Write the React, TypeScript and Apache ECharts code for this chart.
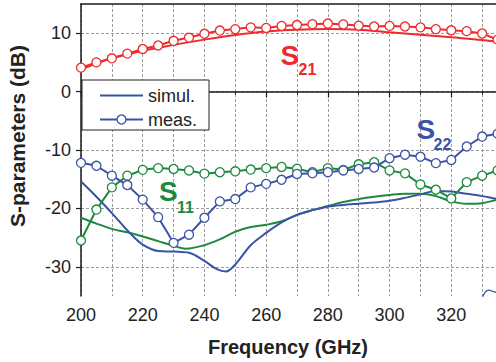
import React, { useEffect, useRef } from "react";
import * as echarts from "echarts";

// Frequency grid of the measured points (GHz)
const measFreq = [
  200, 205, 210, 215, 220, 225, 230, 235, 240, 245, 250, 255, 260, 265,
  270, 275, 280, 285, 290, 295, 300, 305, 310, 315, 320, 325, 330, 335,
];

// Measured S-parameters (dB)
const s21Meas = [
  4.1, 5.0, 5.7, 6.5, 7.3, 7.9, 8.7, 9.25, 9.9, 10.45, 10.7, 11.0, 10.9, 11.25,
  11.4, 11.55, 11.65, 11.5, 11.3, 11.15, 11.25, 11.15, 11.0, 10.7, 10.5, 10.35, 9.95, 8.9,
];
const s22Meas = [
  -12.2, -12.7, -14.4, -16.0, -18.5, -21.5, -25.9, -24.5, -21.6, -18.8, -18.4, -16.4, -15.8, -15.1,
  -14.1, -14.0, -13.8, -13.5, -13.25, -13.0, -11.4, -10.8, -11.15, -12.25, -11.7, -9.4, -7.7, -7.2,
];
const s11Meas = [
  -25.5, -20.2, -16.4, -14.4, -13.4, -13.1, -13.25, -13.5, -14.05, -13.8, -13.65, -13.35, -13.1, -12.9,
  -13.2, -13.8, -13.1, -13.4, -12.45, -12.1, -13.5, -14.0, -15.9, -16.8, -18.3, -15.5, -14.4, -13.5,
];

// Simulated S21
const s21SimFreq = [200, 205, 210, 220, 230, 240, 250, 260, 270, 280, 290, 300, 310, 320, 330, 340];
const s21Sim = [3.8, 4.8, 5.7, 7.0, 8.0, 8.9, 9.7, 10.3, 10.6, 10.7, 10.6, 10.15, 9.75, 9.3, 8.85, 8.2];

// Simulated S22
const s22SimFreq = [
  200, 205, 210, 216, 220, 225, 230, 235, 240, 244, 247, 250, 255, 260, 265,
  270, 275, 280, 285, 290, 295, 300, 305, 310, 315, 320, 325, 330, 335, 340,
];
const s22Sim = [
  -15.4, -18.0, -20.8, -24.3, -26.2, -27.3, -27.4, -27.6, -29.0, -30.4, -30.8, -29.6, -26.3, -24.2, -22.4,
  -21.1, -20.3, -19.7, -19.4, -19.2, -19.0, -18.7, -18.2, -17.6, -17.0, -17.1, -17.5, -17.9, -18.4, -18.8,
];

// Simulated S11
const s11SimFreq = [
  200, 205, 210, 215, 220, 225, 230, 234, 240, 245, 250, 255, 260, 265,
  270, 275, 280, 285, 290, 295, 300, 305, 310, 315, 320, 325, 330, 335, 340,
];
const s11Sim = [
  -21.6, -22.6, -23.5, -24.1, -24.8, -25.6, -26.4, -26.9, -26.3, -25.3, -24.0, -23.2, -22.8, -22.2,
  -21.1, -20.3, -19.6, -18.9, -18.4, -18.0, -17.7, -17.5, -17.5, -17.9, -18.8, -19.2, -19.1, -18.5, -18.0,
];

// Simulated S12 (only its tail rises into view)
const s12SimFreq = [330, 332, 335, 338];
const s12Sim = [-35.3, -34.0, -34.4, -34.2];

const xRange = [200, 340];
const yRange = [-35, 15];
const yLabelValues = [-30, -20, -10, 0, 10];
const legendNames = ["simul.", "meas."];

const RED = "#ee2a2c";
const BLUE = "#3a53a6";
const GREEN = "#1c8a3c";
const FONT = "'Liberation Sans', Arial, sans-serif";
const TEXT = "#222";
const AXIS = "#1a1a1a";
const TOP_Z = 100;

const pairs = (xs: number[], ys: number[]) => xs.map((x, i) => [x, ys[i]]);

const simSeries = (name: string, xs: number[], ys: number[], color: string, width = 2) => ({
  name,
  type: "line",
  data: pairs(xs, ys),
  smooth: 0.35,
  symbol: "none",
  lineStyle: { color, width },
  itemStyle: { color },
});

const measSeries = (name: string, xs: number[], ys: number[], color: string) => ({
  name,
  type: "line",
  data: pairs(xs, ys),
  symbol: "circle",
  symbolSize: 9,
  lineStyle: { color, width: 2 },
  itemStyle: { color: "#fff", borderColor: color, borderWidth: 1.3 },
});

const gridLine = { show: true, lineStyle: { color: "#9c9c9c", type: [3, 2], width: 1 } };

// Boxed key: plain line for simulation, line with open circle for measurement
const legendBox = () => {
  const ox = 82;
  const oy = 80;
  return [
    { type: "rect", z: TOP_Z, shape: { x: ox, y: oy, width: 127, height: 50 }, style: { fill: "#fff", stroke: "#222", lineWidth: 1 } },
    { type: "line", z: TOP_Z + 1, shape: { x1: ox + 18, y1: oy + 15.5, x2: ox + 61, y2: oy + 15.5 }, style: { stroke: BLUE, lineWidth: 2 } },
    { type: "line", z: TOP_Z + 1, shape: { x1: ox + 18, y1: oy + 39.5, x2: ox + 61, y2: oy + 39.5 }, style: { stroke: BLUE, lineWidth: 2 } },
    { type: "circle", z: TOP_Z + 2, shape: { cx: ox + 39.5, cy: oy + 39.5, r: 4.5 }, style: { fill: "#fff", stroke: BLUE, lineWidth: 1.3 } },
    { type: "text", z: TOP_Z + 2, x: ox + 66, y: oy + 15.5, style: { text: legendNames[0], fill: TEXT, font: `18px ${FONT}`, textVerticalAlign: "middle" } },
    { type: "text", z: TOP_Z + 2, x: ox + 66, y: oy + 39.5, style: { text: legendNames[1], fill: TEXT, font: `18px ${FONT}`, textVerticalAlign: "middle" } },
  ];
};

export default function App() {
  const ref = useRef<HTMLDivElement>(null);

  useEffect(() => {
    if (!ref.current) return;
    const chart = echarts.init(ref.current, undefined, { renderer: "svg" });
    chart.setOption({
      animation: false,
      backgroundColor: "#fff",
      textStyle: { fontFamily: FONT },
      grid: { left: 81, top: 4, right: 0, bottom: 66, containLabel: false },
      xAxis: [
        {
          type: "value",
          min: xRange[0],
          max: xRange[1],
          interval: 20,
          axisLine: { lineStyle: { color: AXIS, width: 1.5 } },
          axisTick: { inside: false, length: 6, lineStyle: { color: AXIS, width: 1.2 } },
          minorTick: { show: true, splitNumber: 2, length: 3, lineStyle: { color: AXIS, width: 1 } },
          splitLine: gridLine,
          minorSplitLine: gridLine,
          axisLabel: { color: TEXT, fontSize: 18, fontFamily: FONT, margin: 10, showMaxLabel: false },
        },
        {
          type: "value",
          position: "top",
          min: xRange[0],
          max: xRange[1],
          axisLine: { show: true, lineStyle: { color: AXIS, width: 1.5 } },
          axisTick: { show: false },
          axisLabel: { show: false },
          splitLine: { show: false },
        },
      ],
      yAxis: {
        type: "value",
        min: yRange[0],
        max: yRange[1],
        interval: 5,
        axisLine: { show: true, lineStyle: { color: AXIS, width: 1.5 } },
        axisTick: {
          show: true,
          inside: false,
          length: 5,
          customValues: yLabelValues,
          lineStyle: { color: AXIS, width: 1.2 },
        },
        splitLine: gridLine,
        axisLabel: {
          color: TEXT,
          fontSize: 18,
          fontFamily: FONT,
          margin: 10,
          customValues: yLabelValues,
        },
      },
      series: [
        simSeries("S12 sim", s12SimFreq, s12Sim, BLUE, 1.3),
        simSeries("S11 sim", s11SimFreq, s11Sim, GREEN),
        simSeries("S22 sim", s22SimFreq, s22Sim, BLUE),
        simSeries("S21 sim", s21SimFreq, s21Sim, RED),
        measSeries("S11 meas", measFreq, s11Meas, GREEN),
        measSeries("S22 meas", measFreq, s22Meas, BLUE),
        measSeries("S21 meas", measFreq, s21Meas, RED),
      ],
      graphic: [
        ...legendBox(),
        {
          type: "text",
          x: 288,
          y: 347,
          style: { text: "Frequency (GHz)", fill: TEXT, font: `bold 20px ${FONT}`, textAlign: "center", textVerticalAlign: "middle" },
        },
        {
          type: "text",
          x: 17,
          y: 136,
          rotation: Math.PI / 2,
          style: { text: "S-parameters (dB)", fill: TEXT, font: `bold 21px ${FONT}`, textAlign: "center", textVerticalAlign: "middle" },
        },
        { type: "text", z: TOP_Z, x: 280.5, y: 55, style: { text: "S", fill: RED, font: `bold 28px ${FONT}`, textVerticalAlign: "middle" } },
        { type: "text", z: TOP_Z, x: 298.5, y: 69.5, style: { text: "21", fill: RED, font: `bold 16px ${FONT}`, textVerticalAlign: "middle" } },
        { type: "text", z: TOP_Z, x: 159, y: 191.3, style: { text: "S", fill: GREEN, font: `bold 28px ${FONT}`, textVerticalAlign: "middle" } },
        { type: "text", z: TOP_Z, x: 177, y: 207.5, style: { text: "11", fill: GREEN, font: `bold 16px ${FONT}`, textVerticalAlign: "middle" } },
        { type: "text", z: TOP_Z, x: 416.5, y: 129.8, style: { text: "S", fill: BLUE, font: `bold 28px ${FONT}`, textVerticalAlign: "middle" } },
        { type: "text", z: TOP_Z, x: 433.5, y: 144.5, style: { text: "22", fill: BLUE, font: `bold 16px ${FONT}`, textVerticalAlign: "middle" } },
      ],
    });
    return () => chart.dispose();
  }, []);

  // The plot runs on to 340 GHz; the frame shows it up to about 334 GHz.
  return (
    <div style={{ position: "fixed", left: 0, top: 0, width: 496, height: 362, overflow: "hidden", background: "#fff" }}>
      <div ref={ref} style={{ width: 513, height: 362 }} />
    </div>
  );
}
